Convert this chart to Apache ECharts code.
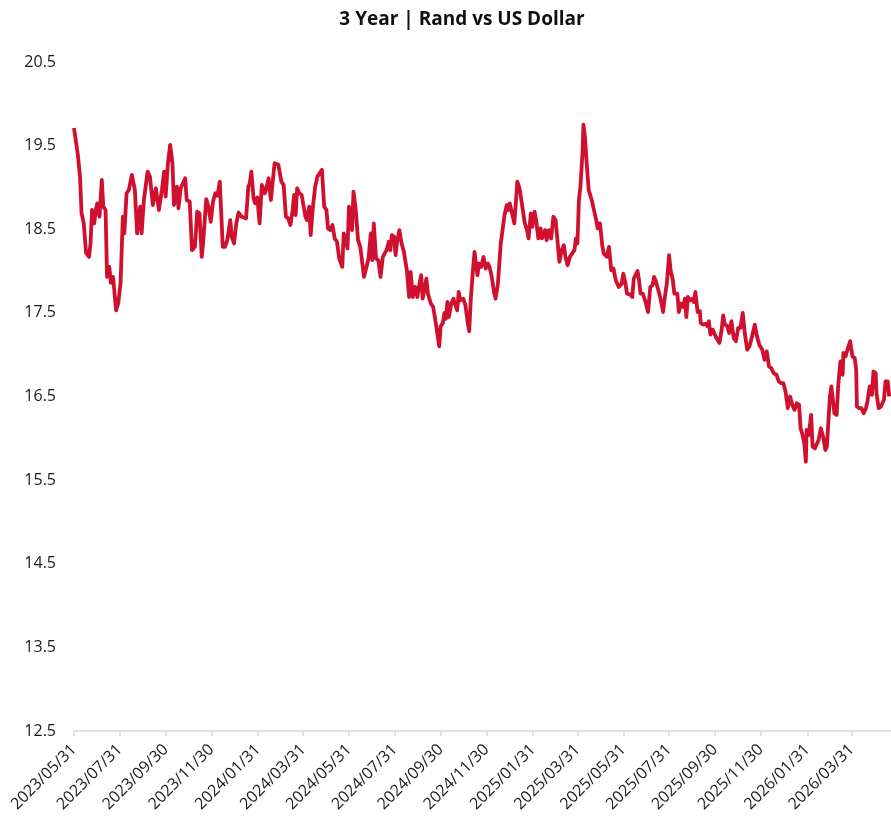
<!DOCTYPE html>
<html>
<head>
<meta charset="utf-8">
<title>3 Year | Rand vs US Dollar</title>
<script src="https://cdn.jsdelivr.net/npm/echarts@6/dist/echarts.min.js"></script>
<style>
  html, body { margin: 0; padding: 0; background: #fff; }
  #chart { width: 891px; height: 818px; }
</style>
</head>
<body>
<div id="chart"></div>
<script>
// USD/ZAR
const dates = [
  '2023-05-31','2023-06-05','2023-06-08','2023-06-10','2023-06-13','2023-06-16','2023-06-20','2023-06-22','2023-06-24','2023-06-27',
  '2023-06-29','2023-07-01','2023-07-04','2023-07-07','2023-07-09','2023-07-12','2023-07-14','2023-07-17','2023-07-19','2023-07-22',
  '2023-07-26','2023-07-29','2023-08-01','2023-08-04','2023-08-06','2023-08-09','2023-08-12','2023-08-16','2023-08-20','2023-08-23',
  '2023-08-27','2023-08-29','2023-09-01','2023-09-06','2023-09-09','2023-09-13','2023-09-17','2023-09-21','2023-09-25','2023-09-28',
  '2023-09-30','2023-10-03','2023-10-06','2023-10-09','2023-10-11','2023-10-15','2023-10-17','2023-10-20','2023-10-26','2023-10-28',
  '2023-11-01','2023-11-04','2023-11-08','2023-11-11','2023-11-14','2023-11-17','2023-11-19','2023-11-23','2023-11-26','2023-11-29',
  '2023-12-02','2023-12-05','2023-12-08','2023-12-11','2023-12-15','2023-12-18','2023-12-21','2023-12-25','2023-12-27','2023-12-30',
  '2024-01-02','2024-01-05','2024-01-09','2024-01-15','2024-01-18','2024-01-20','2024-01-22','2024-01-25','2024-01-27','2024-01-30',
  '2024-02-02','2024-02-05','2024-02-07','2024-02-09','2024-02-11','2024-02-14','2024-02-17','2024-02-19','2024-02-22','2024-02-27',
  '2024-03-02','2024-03-05','2024-03-08','2024-03-11','2024-03-14','2024-03-17','2024-03-19','2024-03-21','2024-03-23','2024-03-26',
  '2024-03-29','2024-03-31','2024-04-03','2024-04-05','2024-04-08','2024-04-10','2024-04-13','2024-04-16','2024-04-19','2024-04-21',
  '2024-04-25','2024-04-28','2024-05-01','2024-05-03','2024-05-06','2024-05-09','2024-05-12','2024-05-15','2024-05-18','2024-05-20',
  '2024-05-22','2024-05-24','2024-05-26','2024-05-29','2024-05-31','2024-06-02','2024-06-04','2024-06-06','2024-06-09','2024-06-12',
  '2024-06-15','2024-06-20','2024-06-22','2024-06-26','2024-06-29','2024-07-01','2024-07-03','2024-07-06','2024-07-09','2024-07-12',
  '2024-07-15','2024-07-20','2024-07-23','2024-07-25','2024-07-27','2024-07-30','2024-08-01','2024-08-03','2024-08-06','2024-08-09',
  '2024-08-12','2024-08-16','2024-08-19','2024-08-21','2024-08-24','2024-08-27','2024-08-30','2024-09-01','2024-09-04','2024-09-06',
  '2024-09-09','2024-09-11','2024-09-13','2024-09-17','2024-09-20','2024-09-23','2024-09-28','2024-09-30','2024-10-03','2024-10-05',
  '2024-10-07','2024-10-09','2024-10-11','2024-10-14','2024-10-17','2024-10-19','2024-10-22','2024-10-24','2024-10-26','2024-10-30',
  '2024-11-02','2024-11-05','2024-11-07','2024-11-09','2024-11-12','2024-11-14','2024-11-18','2024-11-20','2024-11-23','2024-11-26',
  '2024-11-29','2024-12-02','2024-12-04','2024-12-07','2024-12-10','2024-12-12','2024-12-15','2024-12-16','2024-12-19','2024-12-21',
  '2024-12-24','2024-12-27','2024-12-29','2024-12-31','2025-01-02','2025-01-06','2025-01-08','2025-01-10','2025-01-13','2025-01-16',
  '2025-01-20','2025-01-23','2025-01-25','2025-01-28','2025-01-30','2025-02-02','2025-02-04','2025-02-07','2025-02-10','2025-02-12',
  '2025-02-16','2025-02-18','2025-02-21','2025-02-24','2025-02-27','2025-03-02','2025-03-04','2025-03-07','2025-03-10','2025-03-13',
  '2025-03-15','2025-03-18','2025-03-21','2025-03-24','2025-03-27','2025-03-29','2025-03-31','2025-04-02','2025-04-04','2025-04-07',
  '2025-04-08','2025-04-10','2025-04-12','2025-04-15','2025-04-17','2025-04-19','2025-04-21','2025-04-23','2025-04-25','2025-04-27',
  '2025-04-30','2025-05-03','2025-05-05','2025-05-09','2025-05-12','2025-05-15','2025-05-18','2025-05-21','2025-05-25','2025-05-29',
  '2025-05-31','2025-06-03','2025-06-05','2025-06-09','2025-06-12','2025-06-14','2025-06-16','2025-06-19','2025-06-21','2025-06-23',
  '2025-06-26','2025-06-29','2025-07-03','2025-07-06','2025-07-09','2025-07-11','2025-07-13','2025-07-15','2025-07-18','2025-07-21',
  '2025-07-23','2025-07-26','2025-07-28','2025-07-31','2025-08-02','2025-08-05','2025-08-07','2025-08-11','2025-08-13','2025-08-16',
  '2025-08-19','2025-08-21','2025-08-23','2025-08-25','2025-08-28','2025-08-31','2025-09-02','2025-09-04','2025-09-07','2025-09-10',
  '2025-09-11','2025-09-14','2025-09-18','2025-09-20','2025-09-22','2025-09-24','2025-09-27','2025-09-29','2025-10-02','2025-10-06',
  '2025-10-09','2025-10-11','2025-10-13','2025-10-16','2025-10-19','2025-10-22','2025-10-25','2025-10-28','2025-10-31','2025-11-03',
  '2025-11-06','2025-11-09','2025-11-12','2025-11-15','2025-11-18','2025-11-22','2025-11-25','2025-11-28','2025-12-02','2025-12-05',
  '2025-12-08','2025-12-11','2025-12-14','2025-12-17','2025-12-21','2025-12-24','2025-12-27','2025-12-30','2026-01-02','2026-01-05',
  '2026-01-08','2026-01-11','2026-01-14','2026-01-17','2026-01-20','2026-01-22','2026-01-24','2026-01-27','2026-01-29','2026-01-30',
  '2026-02-02','2026-02-05','2026-02-07','2026-02-10','2026-02-13','2026-02-15','2026-02-18','2026-02-21','2026-02-24','2026-02-26',
  '2026-03-02','2026-03-04','2026-03-06','2026-03-08','2026-03-11','2026-03-13','2026-03-16','2026-03-19','2026-03-20','2026-03-23',
  '2026-03-26','2026-03-29','2026-04-01','2026-04-04','2026-04-06','2026-04-07','2026-04-10','2026-04-13','2026-04-16','2026-04-19',
  '2026-04-21','2026-04-24','2026-04-27','2026-04-29','2026-05-02','2026-05-03','2026-05-06','2026-05-09','2026-05-13','2026-05-15',
  '2026-05-18','2026-05-20'
]

const usdZar = [
  19.71,19.40,19.13,18.70,18.57,18.22,18.17,18.33,18.73,18.57,
  18.73,18.81,18.65,19.09,18.77,18.73,17.93,18.05,17.86,17.93,
  17.53,17.62,17.86,18.65,18.45,18.93,18.97,19.15,18.97,18.45,
  18.77,18.45,18.85,19.19,19.13,18.79,18.99,18.73,18.97,19.19,
  18.89,19.29,19.51,19.29,18.79,19.01,18.75,18.99,19.11,18.85,
  18.83,18.25,18.29,18.71,18.69,18.17,18.35,18.86,18.77,18.59,
  18.83,18.93,18.90,19.07,18.29,18.29,18.37,18.61,18.41,18.33,
  18.57,18.70,18.65,18.63,19.01,19.05,19.19,18.87,18.81,18.88,
  18.57,19.03,19.05,18.93,18.99,19.11,18.85,18.87,19.29,19.27,
  19.07,19.03,18.65,18.63,18.55,18.73,18.91,18.67,18.99,18.93,
  18.91,18.93,18.65,18.61,18.77,18.43,18.77,19.01,19.13,19.15,
  19.21,18.77,18.73,18.51,18.49,18.55,18.39,18.35,18.15,18.17,
  18.05,18.45,18.40,18.27,18.77,18.75,18.49,18.95,18.73,18.37,
  18.29,17.93,17.95,18.15,18.45,18.13,18.57,18.15,18.13,17.93,
  18.17,18.25,18.35,18.25,18.43,18.41,18.19,18.35,18.49,18.33,
  18.23,18.01,17.69,17.99,17.69,17.81,17.69,17.81,17.95,17.67,
  17.81,17.91,17.73,17.61,17.57,17.41,17.10,17.34,17.38,17.50,
  17.43,17.63,17.45,17.61,17.67,17.61,17.53,17.75,17.65,17.67,
  17.59,17.38,17.28,17.65,18.01,18.23,17.95,18.09,18.05,18.17,
  18.03,18.09,18.05,17.93,17.75,17.67,17.83,17.84,18.33,18.35,
  18.67,18.79,18.73,18.81,18.73,18.57,18.81,19.07,18.99,18.81,
  18.57,18.49,18.39,18.69,18.53,18.71,18.61,18.39,18.51,18.39,
  18.49,18.37,18.49,18.39,18.65,18.61,18.41,18.11,18.25,18.31,
  18.17,18.07,18.17,18.21,18.25,18.39,18.33,18.85,19.01,19.45,
  19.75,19.61,19.33,18.97,18.99,18.85,18.77,18.75,18.61,18.51,
  18.57,18.31,18.21,18.17,18.29,18.01,18.03,17.89,17.81,17.85,
  17.97,17.85,17.73,17.72,17.69,17.91,17.89,18.00,17.89,17.73,
  17.73,17.65,17.51,17.81,17.83,17.93,17.89,17.91,17.73,17.61,
  17.51,17.73,17.85,18.19,18.01,17.89,17.73,17.73,17.51,17.61,
  17.57,17.67,17.45,17.69,17.65,17.67,17.63,17.75,17.51,17.52,
  17.38,17.36,17.37,17.34,17.40,17.24,17.30,17.28,17.20,17.14,
  17.30,17.47,17.36,17.35,17.26,17.40,17.20,17.16,17.32,17.32,
  17.50,17.24,17.06,17.10,17.20,17.36,17.22,17.12,17.06,16.94,
  17.04,16.86,16.84,16.78,16.76,16.68,16.66,16.66,16.56,16.36,
  16.50,16.40,16.34,16.42,16.40,16.12,16.06,15.94,15.72,16.10,
  16.04,16.28,15.90,15.88,15.94,15.98,16.12,16.02,15.86,15.90,
  16.50,16.62,16.64,16.30,16.28,16.62,16.92,16.76,17.02,16.98,
  17.08,17.16,16.98,16.96,16.82,16.38,16.36,16.36,16.30,16.36,
  16.44,16.62,16.52,16.80,16.78,16.54,16.36,16.38,16.46,16.68,
  16.68,16.50
]

const tickLabels = [
  '2023/05/31','2023/07/31','2023/09/30','2023/11/30','2024/01/31','2024/03/31',
  '2024/05/31','2024/07/31','2024/09/30','2024/11/30','2025/01/31','2025/03/31',
  '2025/05/31','2025/07/31','2025/09/30','2025/11/30','2026/01/31','2026/03/31'
]

const axisStart = '2023-05-31'
const axisEnd = '2026-05-29'

const RED = '#d0102f'
const FONT = '"Open Sans", "Noto Sans", sans-serif'

// 'YYYY-MM-DD' or 'YYYY/MM/DD' -> local midnight timestamp
function toTime(s) {
  const [y, m, d] = s.split(/[-/]/).map(Number)
  return new Date(y, m - 1, d).getTime()
}

function fmtDate(v) {
  const dt = new Date(v)
  const pad = (n) => String(n).padStart(2, '0')
  return dt.getFullYear() + '/' + pad(dt.getMonth() + 1) + '/' + pad(dt.getDate())
}

function buildOption() {
  const tickValues = tickLabels.map(toTime)
  return {
    animation: false,
    title: {
      text: '3 Year | Rand vs US Dollar',
      left: 462,
      top: 10,
      padding: 0,
      textAlign: 'center',
      textStyle: { fontFamily: FONT, fontSize: 19, fontWeight: 'bold', color: '#111' },
    },
    grid: { left: 74, top: 62, width: 822, bottom: 87, outerBoundsMode: 'none' },
    xAxis: {
      type: 'value',
      min: toTime(axisStart),
      max: toTime(axisEnd),
      axisLine: { show: true, lineStyle: { color: '#d9d9d9', width: 1.5 } },
      axisTick: { show: true, length: 5, customValues: tickValues, lineStyle: { color: '#d9d9d9', width: 1.5 } },
      axisLabel: {
        customValues: tickValues,
        rotate: 45,
        margin: 16,
        fontFamily: FONT,
        fontSize: 16,
        color: '#1a1a1a',
        formatter: fmtDate,
      },
      splitLine: { show: false },
    },
    yAxis: {
      type: 'value',
      min: 12.5,
      max: 20.5,
      interval: 1,
      axisLine: { show: false },
      axisTick: { show: false },
      splitLine: { show: false },
      axisLabel: {
        margin: 18,
        fontFamily: FONT,
        fontSize: 16,
        color: '#1a1a1a',
        formatter: (v) => v.toFixed(1),
      },
    },
    series: [
      {
        name: 'USD/ZAR',
        type: 'line',
        data: dates.map((d, i) => [toTime(d), usdZar[i]]),
        showSymbol: false,
        lineStyle: { color: RED, width: 3.8, join: 'round' },
        itemStyle: { color: RED },
      },
    ],
  }
}

const chart = echarts.init(document.getElementById('chart'))
chart.setOption(buildOption())

window.addEventListener('resize', () => chart.resize())
</script>
</body>
</html>
